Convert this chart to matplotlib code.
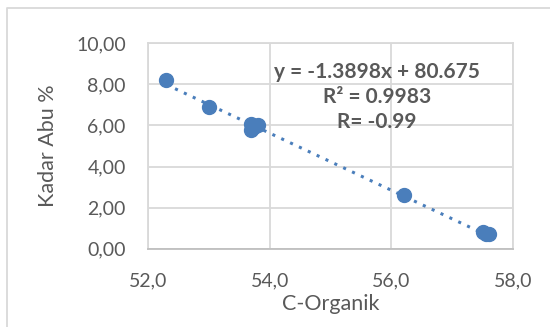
import numpy as np
import matplotlib.pyplot as plt
from matplotlib.lines import Line2D

plt.rcParams['font.family'] = ['Lato', 'DejaVu Sans']

# data
c_organik = [52.3, 53.0, 53.7, 53.7, 53.75, 53.8, 56.2, 57.5, 57.55, 57.6]
kadar_abu = [8.20, 6.90, 5.80, 6.05, 5.90, 6.00, 2.62, 0.80, 0.72, 0.70]
slope = -1.3898
intercept = 80.675
x_ticks = [52.0, 54.0, 56.0, 58.0]
y_ticks = [0, 2, 4, 6, 8, 10]

blue = '#4a7ebb'
grid = '#d9d9d9'
text_col = '#595959'

fig = plt.figure(figsize=(5.5, 3.27), dpi=100)
ax = fig.add_axes([0.269, 0.239, 0.664, 0.629])

# trendline over the data range
xl = np.array([min(c_organik), max(c_organik)])
ax.plot(xl, slope * xl + intercept, linestyle=(0, (1, 2.2)), color=blue,
        linewidth=2.2, zorder=2)
ax.plot(c_organik, kadar_abu, 'o', color=blue, markersize=10, zorder=3)

ax.set_xlim(52, 58)
ax.set_ylim(0, 10)
ax.set_xticks(x_ticks)
ax.set_yticks(y_ticks)
ax.set_xticklabels([f'{v:.1f}'.replace('.', ',') for v in x_ticks])
ax.set_yticklabels([f'{v:.2f}'.replace('.', ',') for v in y_ticks])
ax.tick_params(length=0, labelsize=14, colors=text_col)
ax.tick_params(axis='y', pad=16)
ax.tick_params(axis='x', pad=17)
ax.grid(True, color=grid, linewidth=1.3)
ax.set_axisbelow(True)
for s in ax.spines.values():
    s.set_color(grid)
    s.set_linewidth(1.3)
ax.spines['bottom'].set_color('#bfbfbf')

ax.set_xlabel('C-Organik', fontsize=15.5, color=text_col, labelpad=3)
ax.set_ylabel('Kadar Abu %', fontsize=15.5, color=text_col, labelpad=13)

ax.text(0.627, 0.738, 'y = -1.3898x + 80.675\nR² = 0.9983\nR= -0.99',
        transform=ax.transAxes, ha='center', va='center', fontsize=15,
        fontweight='bold', color=text_col, linespacing=1.3)

# chart area border (only top and left visible in the crop)
fig.lines.append(Line2D([7 / 550, 7 / 550, 1], [0, 1 - 8 / 327, 1 - 8 / 327],
                        transform=fig.transFigure, color='#d9d9d9', linewidth=1.3))

fig.savefig('out.png', dpi=100)
